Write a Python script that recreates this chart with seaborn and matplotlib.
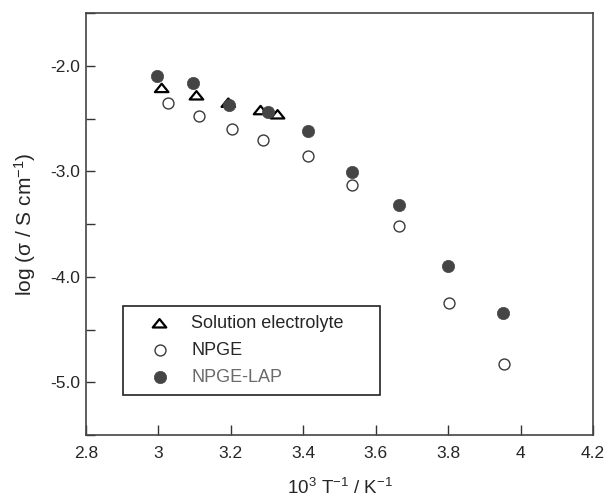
import matplotlib
matplotlib.use('Agg')
import matplotlib.pyplot as plt
from matplotlib.path import Path
import numpy as np
import pandas as pd
import seaborn as sns

sns.set_style('ticks')
plt.rcParams['font.family'] = ['Liberation Sans', 'DejaVu Sans']
plt.rcParams['mathtext.fontset'] = 'custom'
plt.rcParams['mathtext.rm'] = 'Liberation Sans'
plt.rcParams['mathtext.it'] = 'Liberation Sans:italic'
plt.rcParams['axes.unicode_minus'] = False

# data
sol_x = [3.009, 3.105, 3.193, 3.282, 3.329]
sol_y = [-2.21, -2.28, -2.35, -2.42, -2.46]
npge_x = [3.027, 3.112, 3.202, 3.290, 3.413, 3.534, 3.663, 3.803, 3.953]
npge_y = [-2.354, -2.474, -2.600, -2.708, -2.852, -3.128, -3.523, -4.252, -4.825]
lap_x = [2.997, 3.096, 3.195, 3.302, 3.413, 3.534, 3.663, 3.800, 3.952]
lap_y = [-2.095, -2.168, -2.373, -2.443, -2.623, -3.011, -3.318, -3.896, -4.347]

x_ticks = [2.8, 3.0, 3.2, 3.4, 3.6, 3.8, 4.0, 4.2]
x_ticklabels = ['2.8', '3', '3.2', '3.4', '3.6', '3.8', '4', '4.2']
y_ticks = [-5.5, -5.0, -4.5, -4.0, -3.5, -3.0, -2.5, -2.0, -1.5]
y_ticklabels = ['', '-5.0', '', '-4.0', '', '-3.0', '', '-2.0', '']

# squat open triangle, closed path
tri = Path([(0, 0.62), (-1, -0.62), (1, -0.62), (0, 0.62)], closed=True)

fig = plt.figure(figsize=(6.08, 5.03), dpi=100)
ax = fig.add_axes([86 / 608, 1 - 435 / 503, 507 / 608, 422 / 503])

sns.scatterplot(x=sol_x, y=sol_y, ax=ax, marker=tri, s=95, facecolor='none',
                edgecolor='black', linewidth=1.6, label='Solution electrolyte', zorder=2)
sns.scatterplot(x=npge_x, y=npge_y, ax=ax, marker='o', s=62, facecolor='white',
                edgecolor='#3a3a3a', linewidth=1.0, label='NPGE', zorder=2)
sns.scatterplot(x=lap_x, y=lap_y, ax=ax, marker='o', s=78, color='#454545',
                edgecolor='#454545', linewidth=0.5, label='NPGE-LAP', zorder=3)

ax.set_xlim(2.8, 4.2)
ax.set_ylim(-5.5, -1.5)
ax.set_xticks(x_ticks)
ax.set_xticklabels(x_ticklabels)
ax.set_yticks(y_ticks)
ax.set_yticklabels(y_ticklabels)
ax.tick_params(axis='x', direction='in', length=7, width=1.0, labelsize=12.5, pad=8, color='#333333')
ax.tick_params(axis='y', direction='in', length=6.5, width=1.0, labelsize=12.5, pad=4, color='#333333')
for sp in ax.spines.values():
    sp.set_visible(True)
    sp.set_color('#444444')
    sp.set_linewidth(1.2)

ax.set_xlabel(r'10$^3$ T$^{-1}$ / K$^{-1}$', fontsize=13.5, labelpad=12)
ax.set_ylabel(r'log (σ / S cm$^{-1}$)', fontsize=15, labelpad=9)

leg = ax.legend(loc='lower left', bbox_to_anchor=(0.072, 0.095, 0.508, 0.21), mode='expand',
                borderaxespad=0, fontsize=13, frameon=True, fancybox=False,
                handletextpad=0.2, labelspacing=0.55, borderpad=0.5, handlelength=3.1)
leg.get_frame().set_edgecolor('#222222')
leg.get_frame().set_linewidth(1.2)
leg.get_frame().set_alpha(1)
leg.get_texts()[2].set_color('#6a6a6a')

fig.savefig('out.png', dpi=100)
